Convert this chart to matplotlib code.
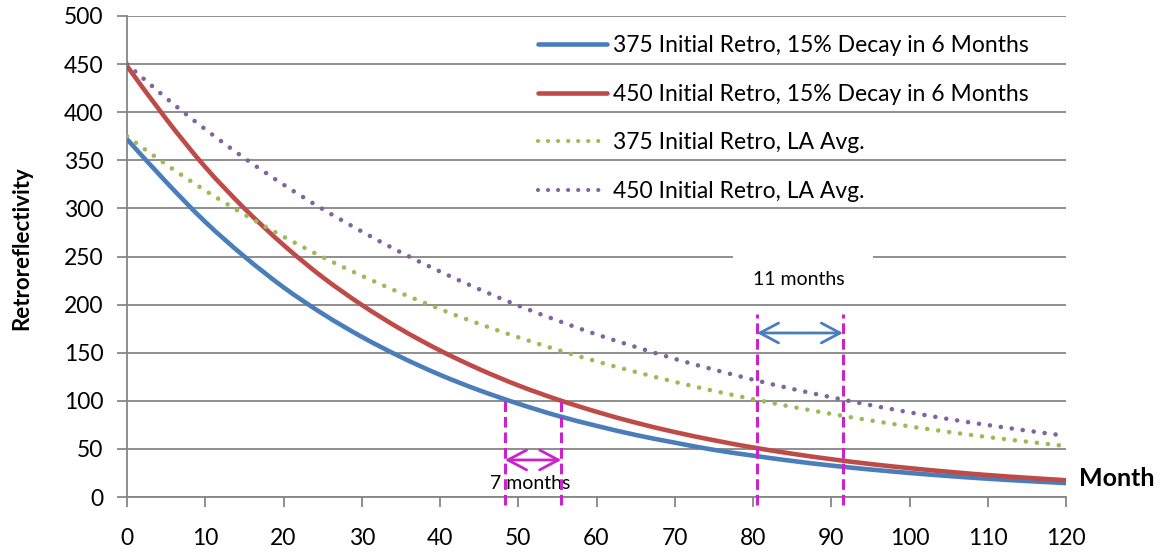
import matplotlib
matplotlib.use("Agg")
import matplotlib.pyplot as plt
from matplotlib.path import Path
from matplotlib.patches import PathPatch, Rectangle
from matplotlib.lines import Line2D

# values every 5 months
months = [0, 5, 10, 15, 20, 25, 30, 35, 40, 45, 50, 55, 60,
          65, 70, 75, 80, 85, 90, 95, 100, 105, 110, 115, 120]
retro_375_decay = [372, 327.5, 286, 250, 218, 190.5, 166.5, 145.5, 127, 111, 97, 84.5, 74,
                   64.5, 56.5, 49, 43, 37.5, 32.7, 28.6, 25, 21.8, 19, 16.6, 14.5]
retro_450_decay = [448, 393, 343, 300, 262, 228.5, 199.7, 174.4, 152.3, 133, 116, 101.4, 88.6,
                   77.3, 67.5, 59, 51.5, 45, 39.3, 34.3, 30, 26.2, 22.8, 20, 17.4]
retro_375_la = [375, 345.6, 318.6, 293.6, 270.6, 249.4, 230, 212, 195.3, 180, 166, 153, 141,
                130, 119.7, 110.3, 101.7, 93.7, 86.4, 79.6, 73.4, 67.6, 62.3, 57.5, 53]
retro_450_la = [450, 414.7, 382.3, 352.3, 324.7, 299.3, 276, 254.3, 234.4, 216, 199, 183.5, 169,
                156, 143.6, 132.4, 122, 112.4, 103.7, 95.5, 88, 81, 74.8, 69, 63.6]
labels = ["375 Initial Retro, 15% Decay in 6 Months",
          "450 Initial Retro, 15% Decay in 6 Months",
          "375 Initial Retro, LA Avg.",
          "450 Initial Retro, LA Avg."]

# month where each curve reaches 100
cross_decay = [48.3, 55.5]
cross_la = [80.5, 91.5]

plt.rcParams['font.family'] = ['Lato', 'DejaVu Sans']
grey = '#868686'
magenta = '#CC22CC'
arrow = '<->,head_length=0.32,head_width=0.17'


def smooth_path(xs, ys):
    # Excel-style smoothed line: cubic bezier through the points
    pts = list(zip(xs, ys))
    n = len(pts)
    verts = [pts[0]]
    codes = [Path.MOVETO]
    for i in range(n - 1):
        p0 = pts[max(i - 1, 0)]
        p1 = pts[i]
        p2 = pts[i + 1]
        p3 = pts[min(i + 2, n - 1)]
        c1 = (p1[0] + (p2[0] - p0[0]) / 6, p1[1] + (p2[1] - p0[1]) / 6)
        c2 = (p2[0] - (p3[0] - p1[0]) / 6, p2[1] - (p3[1] - p1[1]) / 6)
        verts += [c1, c2, p2]
        codes += [Path.CURVE4] * 3
    return Path(verts, codes)


fig = plt.figure(figsize=(11.6, 5.56), dpi=100)
ax = fig.add_axes([127 / 1160, 1 - 497 / 556, (1066 - 127) / 1160, (497 - 16) / 556])

series = [retro_375_decay, retro_450_decay, retro_375_la, retro_450_la]
colors = ['#4A7EBB', '#BE4B48', '#9BBB59', '#8064A2']
dotted = (0, (0.01, 2.4))
styles = ['-', '-', dotted, dotted]
handles = []
for vals, c, ls, lab in zip(series, colors, styles, labels):
    patch = PathPatch(smooth_path(months, vals), facecolor='none', edgecolor=c,
                      lw=3.3, ls=ls, capstyle='round', zorder=3)
    ax.add_patch(patch)
    handles.append(Line2D([], [], color=c, lw=3.3 if ls == '-' else 3, ls=ls,
                          solid_capstyle='round', dash_capstyle='round', label=lab))

ax.set_xlim(0, 120)
ax.set_ylim(0, 500)
ax.set_xticks(range(0, 121, 10))
ax.set_yticks(range(0, 501, 50))
ax.yaxis.grid(True, color=grey, lw=1.3)
ax.set_axisbelow(True)
for s in ['top', 'right']:
    ax.spines[s].set_visible(False)
for s in ['left', 'bottom']:
    ax.spines[s].set_color(grey)
    ax.spines[s].set_linewidth(1.3)
ax.tick_params(axis='both', colors=grey, length=7, width=1.3, labelcolor='black', labelsize=16.5)
ax.tick_params(axis='x', pad=15)
ax.tick_params(axis='y', pad=10)

# annotation: 7 months
for x in cross_decay:
    ax.plot([x, x], [-8, 101], color=magenta, lw=2.2, ls=(0, (3.5, 1.6)), clip_on=False, zorder=5)
ax.annotate('', xy=(cross_decay[0], 38.5), xytext=(cross_decay[1], 38.5),
            arrowprops=dict(arrowstyle=arrow, color=magenta,
                            lw=2, mutation_scale=42, shrinkA=0, shrinkB=0), zorder=6)
ax.text(51.5, 14, '7 months', ha='center', va='center', fontsize=14, zorder=4)

# annotation: 11 months
ax.add_patch(Rectangle((77.4, 212), 17.9, 50, facecolor='white', edgecolor='none', zorder=2))
for x in cross_la:
    ax.plot([x, x], [-8, 190], color=magenta, lw=2.2, ls=(0, (3.5, 1.6)), clip_on=False, zorder=5)
ax.annotate('', xy=(cross_la[0], 170.5), xytext=(cross_la[1], 170.5),
            arrowprops=dict(arrowstyle=arrow, color='#4A7EBB',
                            lw=2, mutation_scale=42, shrinkA=0, shrinkB=0), zorder=6)
ax.text(85.8, 226, '11 months', ha='center', va='center', fontsize=14, zorder=4)

leg = ax.legend(handles=handles, loc='upper left', bbox_to_anchor=(527 / 1160, 1 - 24 / 556),
                bbox_transform=fig.transFigure, frameon=False, fontsize=16.5,
                handlelength=3.0, handletextpad=0.25, labelspacing=1.2, borderpad=0)

fig.text(22 / 1160, 1 - 248 / 556, 'Retroreflectivity', rotation=90, ha='center', va='center',
         fontsize=16, fontweight='bold')
fig.text(1079 / 1160, 1 - 479 / 556, 'Month', ha='left', va='center',
         fontsize=18, fontweight='bold')

fig.savefig('out.png', dpi=100)
